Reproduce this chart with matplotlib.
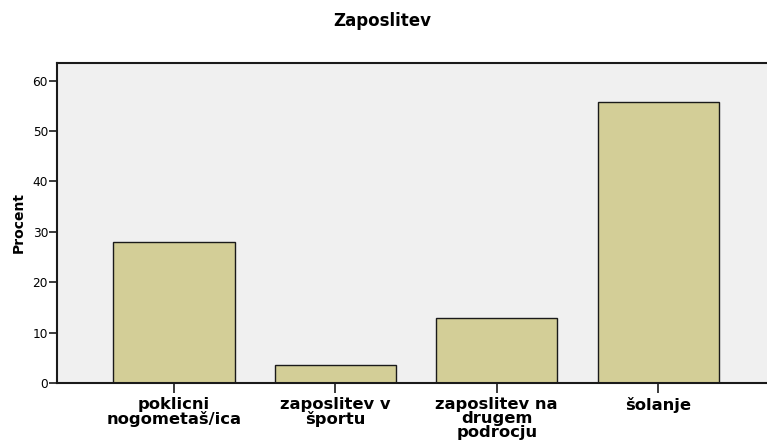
import numpy as np
import matplotlib
matplotlib.use("Agg")
import matplotlib.pyplot as plt

plt.rcParams["font.family"] = ["DejaVu Sans"]

# data
categories = ["poklicni\nnogometaš/ica", "zaposlitev v\nšportu",
              "zaposlitev na\ndrugem\npodrocju", "šolanje"]
percent = [27.9, 3.6, 12.9, 55.8]
yticks = [0, 10, 20, 30, 40, 50, 60]

fig = plt.figure(figsize=(7.67, 4.47), dpi=100)
ax = fig.add_axes([57 / 767, 64 / 447, 1.02 - 57 / 767, (383 - 63) / 447])
ax.set_facecolor("#f0f0f0")

x = np.arange(len(categories))
ax.bar(x, percent, width=0.75, color="#d3ce97", edgecolor="#1a1a1a", linewidth=1.0, zorder=2)

ax.set_xlim(-0.725, 3.77)
ax.set_ylim(0, 63.5)
ax.set_yticks(yticks)
ax.set_yticklabels([str(t) for t in yticks], fontsize=8.7)
ax.set_xticks(x)
ax.set_xticklabels(categories, fontsize=11.8, fontweight="bold", linespacing=0.93)
ax.tick_params(axis="both", direction="out", width=1.2, color="#1a1a1a")
ax.tick_params(axis="y", length=5.5, pad=1)
ax.tick_params(axis="x", length=7, pad=3)

for s in ["left", "top", "bottom"]:
    ax.spines[s].set_linewidth(1.5)
    ax.spines[s].set_color("#1a1a1a")
ax.spines["right"].set_visible(False)

ax.set_ylabel("Procent", fontsize=10, fontweight="bold", labelpad=5)
fig.text(382 / 767, 1 - 21 / 447, "Zaposlitev", ha="center", va="center",
         fontsize=12, fontweight="bold")

fig.savefig("out.png", dpi=100)
